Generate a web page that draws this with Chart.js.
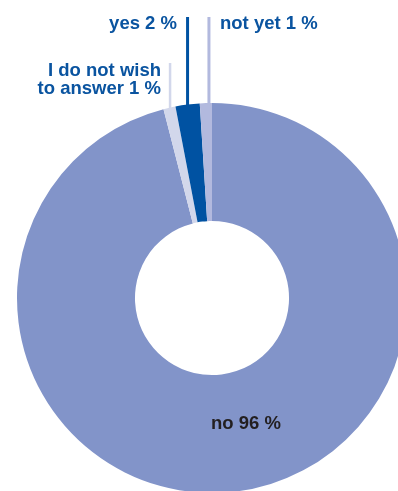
<!DOCTYPE html>
<html>
<head>
<meta charset="utf-8">
<script src="https://cdn.jsdelivr.net/npm/chart.js@4/dist/chart.umd.min.js"></script>
<style>
html,body{margin:0;padding:0;background:#fff;overflow:hidden;width:398px;height:491px;}
#wrap{position:absolute;left:0;top:0;width:424px;height:494px;}
</style>
</head>
<body>
<div id="wrap"><canvas id="c" width="424" height="494"></canvas></div>
<script>
const categories = ["no", "I do not wish to answer", "yes", "not yet"];
const values = [96, 1, 2, 1];
const labelLines = [["no 96 %"], ["I do not wish", "to answer 1 %"], ["yes 2 %"], ["not yet 1 %"]];

const sliceColors = ["#8294C9", "#D2D7EB", "#0052A2", "#B2B9DE"];
const FONT = "bold 18.5px 'Liberation Sans', Arial, sans-serif";

// per-slice label styling (positions relative to arcs)
const labelStyle = [
  {inside: true, color: "#231F20"},
  {frac: 0.55, lineTop: 63, lineW: 2.5, lineColor: "#D2D7EB", textX: 161, baselines: [76, 94], align: "right", color: "#0A54A0"},
  {frac: 0.5, lineTop: 17, lineW: 3, lineColor: "#0052A2", textX: 177, baselines: [29], align: "right", color: "#0A54A0"},
  {frac: 0.75, lineTop: 17, lineW: 3, lineColor: "#B2B9DE", textX: 220, baselines: [29], align: "left", color: "#0A54A0"}
];

const labelPlugin = {
  id: "labels",
  afterDraw(chart) {
    const ctx = chart.ctx;
    const meta = chart.getDatasetMeta(0);
    ctx.save();
    ctx.font = FONT;
    ctx.textBaseline = "alphabetic";
    meta.data.forEach((arc, i) => {
      const st = labelStyle[i];
      const p = arc.getProps(["x", "y", "startAngle", "endAngle", "outerRadius", "innerRadius"], true);
      if (st.inside) {
        ctx.fillStyle = st.color;
        ctx.textAlign = "left";
        ctx.fillText(labelLines[i][0], 211, 429);
        return;
      }
      const a = p.startAngle + st.frac * (p.endAngle - p.startAngle);
      const px = p.x + Math.cos(a) * p.outerRadius;
      const py = p.y + Math.sin(a) * p.outerRadius;
      ctx.strokeStyle = st.lineColor;
      ctx.lineWidth = st.lineW;
      ctx.beginPath();
      ctx.moveTo(px, py + 3);
      ctx.lineTo(px, st.lineTop);
      ctx.stroke();
      ctx.fillStyle = st.color;
      ctx.textAlign = st.align;
      labelLines[i].forEach((t, k) => ctx.fillText(t, st.textX, st.baselines[k]));
    });
    ctx.restore();
  }
};

new Chart(document.getElementById("c"), {
  type: "doughnut",
  data: {
    labels: categories,
    datasets: [{
      data: values,
      backgroundColor: sliceColors,
      borderWidth: 0,
      hoverOffset: 0,
      offset: 0
    }]
  },
  options: {
    responsive: false,
    animation: false,
    devicePixelRatio: 1,
    cutout: "39.5%",
    rotation: 0,
    circumference: 360,
    layout: {padding: {left: 17, right: 17, top: 103, bottom: 1}},
    plugins: {legend: {display: false}, tooltip: {enabled: false}},
    events: []
  },
  plugins: [labelPlugin]
});
</script>
</body>
</html>
